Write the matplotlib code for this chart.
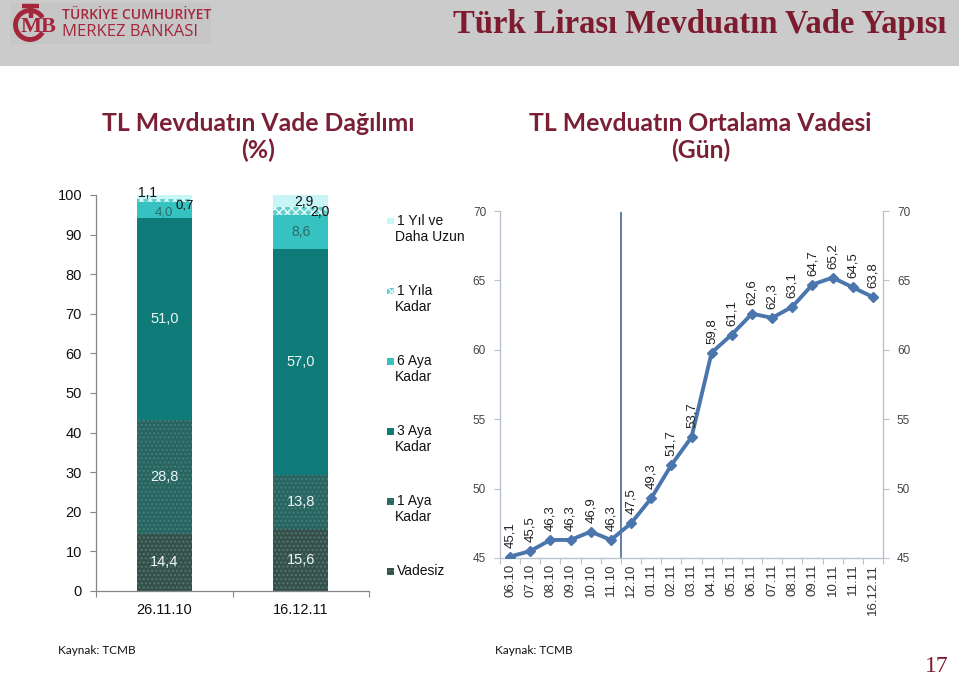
import matplotlib
matplotlib.use('Agg')
import matplotlib.pyplot as plt
from matplotlib.patches import Rectangle, Arc
from matplotlib.lines import Line2D
import numpy as np

# ---------------- data ----------------
dates = ['26.11.10', '16.12.11']
vadesiz = [14.4, 15.6]
aya1 = [28.8, 13.8]
aya3 = [51.0, 57.0]
aya6 = [4.0, 8.6]
yila1 = [0.7, 2.0]
yil_uzun = [1.1, 2.9]
series_labels = ['Vadesiz', '1 Aya\nKadar', '3 Aya\nKadar', '6 Aya\nKadar',
                 '1 Yıla\nKadar', '1 Yıl ve\nDaha Uzun']

months = ['06.10', '07.10', '08.10', '09.10', '10.10', '11.10', '12.10',
          '01.11', '02.11', '03.11', '04.11', '05.11', '06.11', '07.11',
          '08.11', '09.11', '10.11', '11.11', '16.12.11']
avg_maturity = [45.1, 45.5, 46.3, 46.3, 46.9, 46.3, 47.5, 49.3, 51.7, 53.7,
                59.8, 61.1, 62.6, 62.3, 63.1, 64.7, 65.2, 64.5, 63.8]

# ---------------- figure ----------------
W, H = 959, 676
fig = plt.figure(figsize=(W / 100, H / 100), dpi=100)
fig.patch.set_facecolor('white')
SANS = ['Liberation Sans', 'DejaVu Sans']


def fx(x):
    return x / W


def fy(y):
    return 1 - y / H


def rect(x0, y0, x1, y1):
    return [x0 / W, 1 - y1 / H, (x1 - x0) / W, (y1 - y0) / H]


RED = '#7d1c2e'
SUB = '#7a1f35'

# header band
fig.patches.append(Rectangle((0, fy(66)), 1, 66 / H, transform=fig.transFigure,
                             facecolor='#cbcbcb', edgecolor='none', zorder=0))
fig.patches.append(Rectangle((fx(10), fy(44)), 201 / W, 41 / H, transform=fig.transFigure,
                             facecolor='#c6c6c6', edgecolor='none', zorder=0))
# logo emblem
LOGO = '#a3263a'
fig.patches.append(Arc((fx(30), fy(25)), 29 / W, 29 / H, theta1=40, theta2=320,
                       transform=fig.transFigure, color=LOGO, lw=3.5))
fig.lines.append(Line2D([fx(22), fx(39)], [fy(6), fy(6)], transform=fig.transFigure,
                        color=LOGO, lw=3.2, solid_capstyle='butt'))
fig.lines.append(Line2D([fx(30.5), fx(30.5)], [fy(6), fy(18)], transform=fig.transFigure,
                        color=LOGO, lw=3.2, solid_capstyle='butt'))
fig.text(fx(38.5), fy(27), 'MB', color=LOGO, fontsize=16, fontweight='bold',
         family='Liberation Serif', ha='center', va='center')
fig.text(fx(62), fy(15), 'TÜRKİYE CUMHURİYET', color=LOGO, fontsize=10,
         family='Open Sans', fontweight='semibold', ha='left', va='center')
fig.text(fx(62), fy(32), 'MERKEZ BANKASI', color=LOGO, fontsize=12,
         family='Open Sans', ha='left', va='center')

# main title
fig.text(fx(700), fy(24), 'Türk Lirası Mevduatın Vade Yapısı', color=RED,
         fontsize=23.5, fontweight='bold', family='Liberation Serif',
         ha='center', va='center')

# subtitles
fig.text(fx(258.5), fy(137), 'TL Mevduatın Vade Dağılımı\n(%)', color=SUB,
         fontsize=17.8, fontweight='bold', family='Lato', ha='center', va='center',
         linespacing=1.15)
fig.text(fx(700.5), fy(137), 'TL Mevduatın Ortalama Vadesi\n(Gün)', color=SUB,
         fontsize=17.8, fontweight='bold', family='Lato', ha='center', va='center',
         linespacing=1.15)

# ---------------- left: stacked bars ----------------
ax1 = fig.add_axes(rect(96, 195, 369, 591))
x = np.arange(len(dates))
styles = [
    dict(facecolor='#34504b', hatch='....', edgecolor='#557570'),
    dict(facecolor='#2a6460', hatch='....', edgecolor='#3f807b'),
    dict(facecolor='#0f7b79', hatch=None, edgecolor='#0f7b79'),
    dict(facecolor='#35c2c0', hatch=None, edgecolor='#35c2c0'),
    dict(facecolor='#62cfcf', hatch='xxxx', edgecolor='#e8fbfb'),
    dict(facecolor='#c8f5f5', hatch=None, edgecolor='#c8f5f5'),
]
series = [vadesiz, aya1, aya3, aya6, yila1, yil_uzun]
bottom = np.zeros(len(dates))
bars = []
for vals, st in zip(series, styles):
    ax1.bar(x, vals, 0.4, bottom=bottom, linewidth=0, zorder=2, **st)
    bars.append((np.array(vals), bottom.copy()))
    bottom = bottom + np.array(vals)


def fmt(v):
    return f'{v:.1f}'.replace('.', ',')


# centered labels for large segments
for k in (0, 1, 2):
    vals, bot = bars[k]
    for i in range(len(dates)):
        ax1.text(x[i], bot[i] + vals[i] / 2, fmt(vals[i]), ha='center', va='center',
                 color='#eef8f8', fontsize=10.5, family=SANS, zorder=3)
vals, bot = bars[3]
ax1.text(x[0], bot[0] + vals[0] / 2 - 0.7, fmt(vals[0]), ha='center', va='center',
         color='#2b6b6b', fontsize=9.5, family=SANS, zorder=3)
ax1.text(x[1], bot[1] + vals[1] / 2, fmt(vals[1]), ha='center', va='center',
         color='#2b6b6b', fontsize=10, family=SANS, zorder=3)
# small top segments
v4, b4 = bars[4]
v5, b5 = bars[5]
ax1.text(x[0] - 0.12, b5[0] + v5[0] + 0.4, fmt(v5[0]), ha='center', va='center',
         fontsize=10, family=SANS, color='#111111', zorder=3)
ax1.text(x[0] + 0.15, b4[0] - 0.9, fmt(v4[0]), ha='center', va='center',
         fontsize=9.5, family=SANS, color='#111111', zorder=3)
ax1.text(x[1] + 0.02, b5[1] + v5[1] / 2 - 0.3, fmt(v5[1]), ha='center', va='center',
         fontsize=10, family=SANS, color='#111111', zorder=3)
ax1.text(x[1] + 0.14, b4[1] + v4[1] / 2 - 0.3, fmt(v4[1]), ha='center', va='center',
         fontsize=10, family=SANS, color='#111111', zorder=3)

ax1.set_ylim(0, 100)
ax1.set_xlim(-0.5, 1.5)
ax1.set_yticks(range(0, 101, 10))
ax1.set_xticks([-0.5, 0.5, 1.5])
ax1.set_xticklabels([])
ax1.set_xticks(x, minor=True)
ax1.set_xticklabels(dates, minor=True)
ax1.tick_params(axis='x', which='major', direction='out', length=4, color='#868686')
ax1.tick_params(axis='x', which='minor', length=0, pad=9, labelsize=10.5)
ax1.tick_params(axis='y', direction='out', length=4, color='#868686', labelsize=10.5, pad=6)
for lab in ax1.get_xticklabels(minor=True) + ax1.get_yticklabels():
    lab.set_family(SANS)
    lab.set_color('#111111')
for s in ('top', 'right'):
    ax1.spines[s].set_visible(False)
for s in ('left', 'bottom'):
    ax1.spines[s].set_color('#868686')
    ax1.spines[s].set_linewidth(0.9)

# manual legend (top entry first)
leg_y = [571, 501, 431, 361, 291, 221]
for lab, st, yy in zip(series_labels, styles, leg_y):
    sq = Rectangle((fx(387), fy(yy + 3.5)), 6.5 / W, 6.5 / H, transform=fig.transFigure,
                   linewidth=0, **st)
    fig.patches.append(sq)
    lines = lab.split('\n')
    for j, line in enumerate(lines):
        fig.text(fx(397) if j == 0 else fx(395), fy(yy + 16 * j), line, ha='left',
                 va='center', fontsize=10, family=SANS, color='#111111')

# ---------------- right: line chart ----------------
ax2 = fig.add_axes(rect(500, 211, 883, 558))
xi = np.arange(len(months))
LINE = '#4a76ad'
ax2.axvline(5.5, ymin=0, ymax=0.994, color='#5575a5', lw=1.3, zorder=1)
ax2.plot(xi, avg_maturity, color=LINE, lw=2.8, marker='D', markersize=5.5,
         markerfacecolor=LINE, markeredgecolor=LINE, zorder=3)
for i, v in zip(xi, avg_maturity):
    ax2.annotate(fmt(v), (i, v), xytext=(0, 6.5), textcoords='offset points',
                 rotation=90, ha='center', va='bottom', fontsize=9.5,
                 family=SANS, color='#222222')
ax2.set_ylim(45, 70)
ax2.set_xlim(-0.5, len(months) - 0.5)
ax2.set_yticks(range(45, 71, 5))
ax2.set_xticks(np.arange(-0.5, len(months), 1.0))
ax2.set_xticklabels([])
ax2.set_xticks(xi, minor=True)
ax2.set_xticklabels(months, minor=True, rotation=90)
AX = '#b9c3cd'
ax2.tick_params(axis='x', which='major', direction='out', length=4, color=AX)
ax2.tick_params(axis='x', which='minor', length=0, pad=4, labelsize=9.5, labelcolor='#333333')
ax2.tick_params(axis='y', direction='out', length=4, color=AX, labelsize=8.5,
                labelcolor='#444444', left=True, right=True, labelleft=True,
                labelright=True, pad=6)
for lab in ax2.get_xticklabels(minor=True) + ax2.get_yticklabels():
    lab.set_family(SANS)
ax2.spines['top'].set_visible(False)
for s in ('left', 'right', 'bottom'):
    ax2.spines[s].set_color(AX)
    ax2.spines[s].set_linewidth(1.0)

# ---------------- footer ----------------
fig.text(fx(58), fy(650), 'Kaynak: TCMB', fontsize=8.5, family='Lato',
         ha='left', va='center', color='#111111')
fig.text(fx(495), fy(650), 'Kaynak: TCMB', fontsize=8.5, family='Lato',
         ha='left', va='center', color='#111111')
fig.text(fx(937), fy(666), '17', fontsize=17, family='Liberation Serif',
         ha='center', va='center', color=RED)

fig.savefig('out.png', dpi=100)
